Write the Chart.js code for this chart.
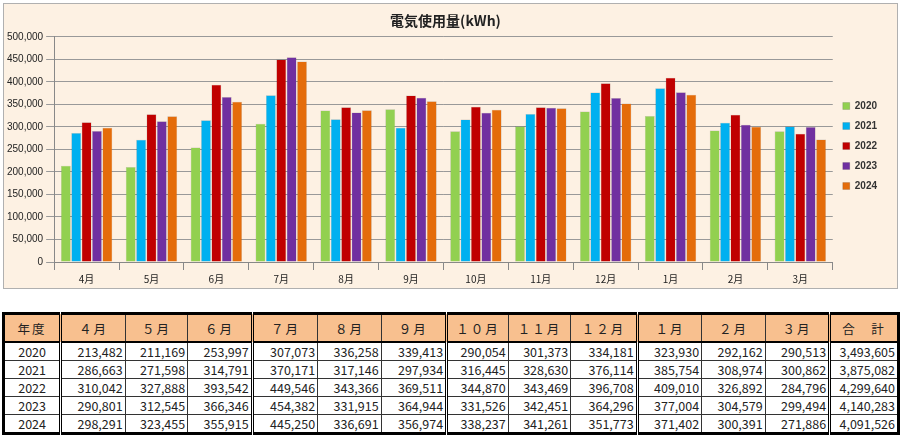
<!DOCTYPE html>
<html><head><meta charset="utf-8">
<script src="https://cdn.jsdelivr.net/npm/chart.js@4/dist/chart.umd.min.js"></script>
<style>
body{margin:0;background:#fff;font-family:"Noto Sans CJK JP",sans-serif;}
#box{position:absolute;left:3px;top:3px;width:893px;height:284px;background:#FDF1E3;border:1px solid #b0b0b0;}
#box canvas{display:block}
table{position:absolute;left:2px;top:312px;border-collapse:collapse;font-size:12.5px;color:#222;line-height:15px;}
td,th{border:1px solid #333;height:17px;padding:0 2px;text-align:right;font-weight:normal;}
th{background:#F8C08F;height:26px;text-align:center;letter-spacing:2px;border-top:3px solid #000;border-bottom:2px solid #000;}
td.y{text-align:center}
.dl{border-left:3px double #000}
tr:last-child td{border-bottom:3px solid #000}
.first{border-left:3px solid #000}.last{border-right:3px solid #000}
</style></head><body>
<div id="box"><canvas id="c" width="893" height="284"></canvas></div>
<table id="t"></table>
<script>
const months = ['4月','5月','6月','7月','8月','9月','10月','11月','12月','1月','2月','3月'];
const headMonths = ['４月','５月','６月','７月','８月','９月','１０月','１１月','１２月','１月','２月','３月'];
const years = ['2020','2021','2022','2023','2024'];
const v2020 = [213482,211169,253997,307073,336258,339413,290054,301373,334181,323930,292162,290513];
const v2021 = [286663,271598,314791,370171,317146,297934,316445,328630,376114,385754,308974,300862];
const v2022 = [310042,327888,393542,449546,343366,369511,344870,343469,396708,409010,326892,284796];
const v2023 = [290801,312545,366346,454382,331915,364944,331526,342451,364296,377004,304579,299494];
const v2024 = [298291,323455,355915,445250,336691,356974,338237,341261,351773,371402,300391,271886];
const totals = [3493605,3875082,4299640,4140283,4091526];
const colors = ['#92D050','#00B0F0','#C00000','#7030A0','#E46C0A'];
const series = [v2020,v2021,v2022,v2023,v2024];

new Chart(document.getElementById('c'), {
  type: 'bar',
  data: {
    labels: months,
    datasets: series.map((d, i) => ({
      label: years[i], data: d, backgroundColor: colors[i],
      borderColor: 'rgba(0,0,0,0.25)', borderWidth: 0.5,
      categoryPercentage: 0.8, barPercentage: 0.95
    }))
  },
  options: {
    responsive: false, animation: false,
    layout: { padding: { left: 0, right: 10, top: 0, bottom: 0 } },
    plugins: {
      title: { display: true, text: '電気使用量(kWh)', font: { size: 14, weight: 'bold', family: 'Noto Sans CJK JP' }, color: '#222', padding: { top: 8, bottom: 8 } },
      legend: { position: 'right', labels: { boxWidth: 7, boxHeight: 7, font: { size: 10, weight: 'bold' }, color: '#333', padding: 10 } }
    },
    scales: {
      x: { grid: { display: true, drawOnChartArea: false, color: '#888' }, border: { color: '#888' }, ticks: { font: { size: 10, family: 'Noto Sans CJK JP' }, color: '#222' } },
      y: { min: 0, max: 500000, ticks: { stepSize: 50000, font: { size: 10 }, color: '#222', callback: v => v.toLocaleString('en-US') }, grid: { color: '#999' }, border: { color: '#888' } }
    }
  }
});

// table
const t = document.getElementById('t');
const widths = [56,64,63,64,65,64,65,61,63,66,64,64,64,67];
const dbl = [1,4,7,10,13];
let h = '<tr>';
['年度', ...headMonths, '合　計'].forEach((s, i) => {
  h += `<th class="${dbl.includes(i) ? 'dl' : ''} ${i == 0 ? 'first' : ''} ${i == 13 ? 'last' : ''}" style="width:${widths[i]-5}px">${s}</th>`;
});
h += '</tr>';
years.forEach((y, r) => {
  h += `<tr><td class="y first">${y}</td>`;
  series[r].forEach((v, i) => h += `<td class="${dbl.includes(i + 1) ? 'dl' : ''}">${v.toLocaleString('en-US')}</td>`);
  h += `<td class="dl last">${totals[r].toLocaleString('en-US')}</td></tr>`;
});
t.innerHTML = h;
</script>
</body></html>
